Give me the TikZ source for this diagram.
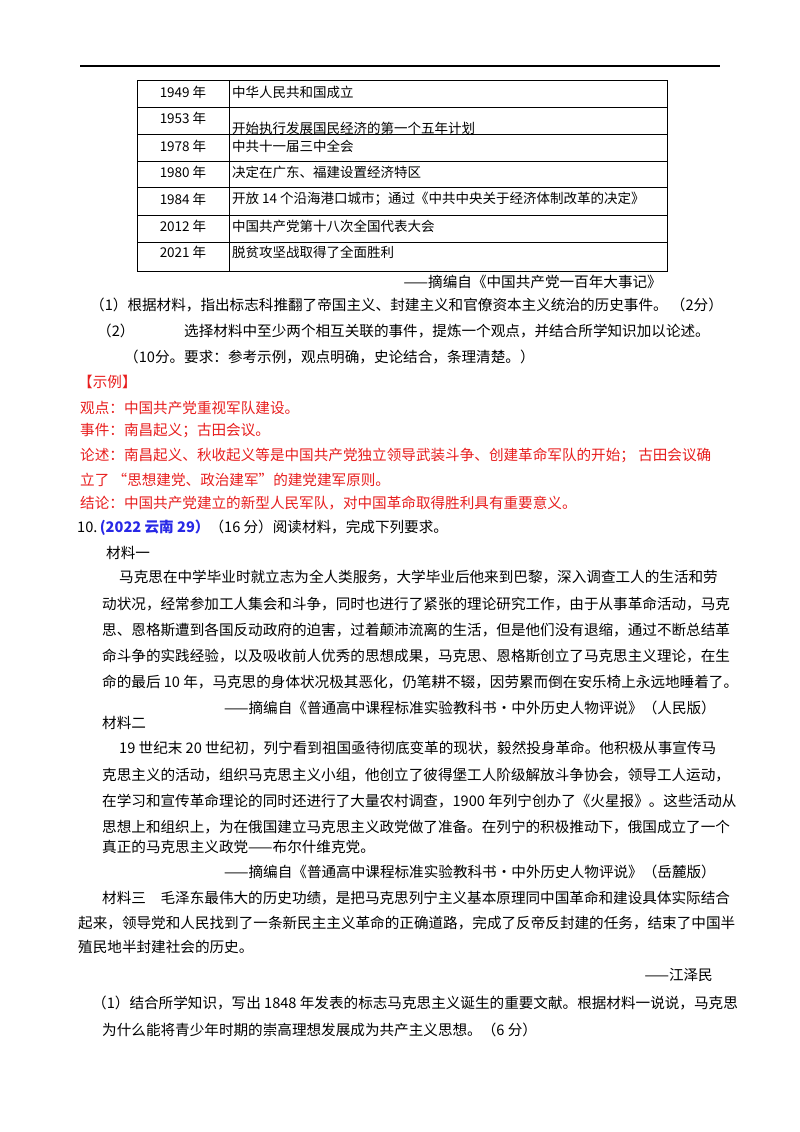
\documentclass[tikz,border=0pt]{standalone}
\usepackage{fontspec}
\setmainfont{Noto Sans CJK SC}
\definecolor{redt}{RGB}{232,30,30}
\definecolor{bluet}{RGB}{40,40,230}
\begin{document}
\begin{tikzpicture}[x=1pt,y=-1pt,
  t/.style={anchor=west,inner sep=0pt,font=\fontsize{14.6}{16}\selectfont},
  tr/.style={anchor=east,inner sep=0pt,font=\fontsize{14.6}{16}\selectfont},
  tb/.style={anchor=west,inner sep=0pt,font=\fontsize{13.5}{15}\selectfont},
  ty/.style={anchor=center,inner sep=0pt,font=\fontsize{13.5}{15}\selectfont},
  r/.style={t,text=redt}]
\useasboundingbox (0,0) rectangle (800,1132);
\fill[white] (0,0) rectangle (800,1132);
\draw[line width=2.2pt] (80,66) -- (720,66);
% table
\draw[line width=0.7pt] (137,80) rectangle (667,271);
\draw[line width=0.7pt] (229,80) -- (229,271);
\foreach \yy in {107,134,161,187,215,242}{\draw[line width=0.7pt] (137,\yy) -- (667,\yy);}
\node[ty] (y1) at (183,92) {1949 年};
\node[ty] (y2) at (183,118) {1953 年};
\node[ty] (y3) at (183,146) {1978 年};
\node[ty] (y4) at (183,172) {1980 年};
\node[ty] (y5) at (183,199) {1984 年};
\node[ty] (y6) at (183,226) {2012 年};
\node[ty] (y7) at (183,252) {2021 年};
\node[tb] (e1) at (232,92) {中华人民共和国成立};
\node[tb] (e2) at (232,128) {开始执行发展国民经济的第一个五年计划};
\node[tb] (e3) at (232,146) {中共十一届三中全会};
\node[tb] (e4) at (232,172) {决定在广东、福建设置经济特区};
\node[tb] (e5) at (232,199) {开放 14 个沿海港口城市；通过《中共中央关于经济体制改革的决定》};
\node[tb] (e6) at (232,226) {中国共产党第十八次全国代表大会};
\node[tb] (e7) at (232,252) {脱贫攻坚战取得了全面胜利};
\node[tr] (s1) at (662,282) {——摘编自《中国共产党一百年大事记》};
\node[t] (q1) at (90,305) {（1）根据材料，指出标志科推翻了帝国主义、封建主义和官僚资本主义统治的历史事件。 （2分）};
\node[t] (q2a) at (97,331) {（2）};
\node[t] (q2) at (184,331) {选择材料中至少两个相互关联的事件，提炼一个观点，并结合所学知识加以论述。};
\node[t] (q2b) at (124,357) {（10分。要求：参考示例，观点明确，史论结合，条理清楚。）};
\node[r] (ex) at (78,382) {【示例】};
\node[r] (v1) at (80,408) {观点：中国共产党重视军队建设。};
\node[r] (v2) at (80,431) {事件：南昌起义；古田会议。};
\node[r] (v3) at (80,455) {论述：南昌起义、秋收起义等是中国共产党独立领导武装斗争、创建革命军队的开始； 古田会议确};
\node[r] (v4) at (80,480) {立了 “思想建党、政治建军”的建党建军原则。};
\node[r] (v5) at (80,503) {结论：中国共产党建立的新型人民军队，对中国革命取得胜利具有重要意义。};
\node[t] (n10) at (77,528) {10.\,{\color{bluet}\bfseries(2022 云南 29）}（16 分）阅读材料，完成下列要求。};
\node[t] (m1) at (106,553) {材料一};
\node[t] (p1) at (119,577) {马克思在中学毕业时就立志为全人类服务，大学毕业后他来到巴黎，深入调查工人的生活和劳};
\node[t] (p2) at (102,604) {动状况，经常参加工人集会和斗争，同时也进行了紧张的理论研究工作，由于从事革命活动，马克};
\node[t] (p3) at (102,630) {思、恩格斯遭到各国反动政府的迫害，过着颠沛流离的生活，但是他们没有退缩，通过不断总结革};
\node[t] (p4) at (102,656) {命斗争的实践经验，以及吸收前人优秀的思想成果，马克思、恩格斯创立了马克思主义理论，在生};
\node[t] (p5) at (102,682) {命的最后 10 年，马克思的身体状况极其恶化，仍笔耕不辍，因劳累而倒在安乐椅上永远地睡着了。};
\node[tr] (s2) at (716,708) {——摘编自《普通高中课程标准实验教科书•中外历史人物评说》（人民版）};
\node[t] (m2) at (102,723) {材料二};
\node[t] (k1) at (119,748) {19 世纪末 20 世纪初，列宁看到祖国亟待彻底变革的现状，毅然投身革命。他积极从事宣传马};
\node[t] (k2) at (102,775) {克思主义的活动，组织马克思主义小组，他创立了彼得堡工人阶级解放斗争协会，领导工人运动，};
\node[t] (k3) at (102,801) {在学习和宣传革命理论的同时还进行了大量农村调查，1900 年列宁创办了《火星报》。这些活动从};
\node[t] (k4) at (102,827) {思想上和组织上，为在俄国建立马克思主义政党做了准备。在列宁的积极推动下，俄国成立了一个};
\node[t] (k5) at (102,847) {真正的马克思主义政党——布尔什维克党。};
\node[tr] (s3) at (716,872) {——摘编自《普通高中课程标准实验教科书•中外历史人物评说》（岳麓版）};
\node[t] (m3) at (102,898) {材料三\quad 毛泽东最伟大的历史功绩，是把马克思列宁主义基本原理同中国革命和建设具体实际结合};
\node[t] (j2) at (78,923) {起来，领导党和人民找到了一条新民主主义革命的正确道路，完成了反帝反封建的任务，结束了中国半};
\node[t] (j3) at (78,947) {殖民地半封建社会的历史。};
\node[tr] (s4) at (713,975) {——江泽民};
\node[t] (a1) at (92,1003) {（1）结合所学知识，写出 1848 年发表的标志马克思主义诞生的重要文献。根据材料一说说，马克思};
\node[t] (a2) at (102,1030) {为什么能将青少年时期的崇高理想发展成为共产主义思想。（6 分）};
\end{tikzpicture}
\end{document}
